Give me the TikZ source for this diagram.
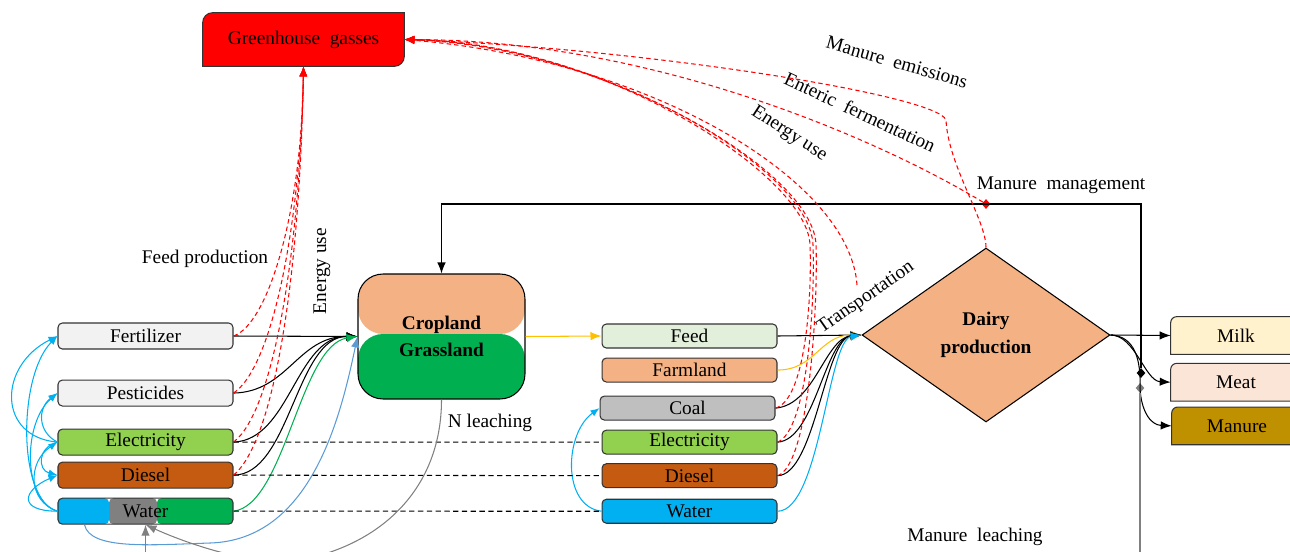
\documentclass[tikz,border=0pt]{standalone}
\usepackage{fontspec}
\setmainfont{Liberation Serif}
\usetikzlibrary{arrows.meta, shapes.geometric, positioning, backgrounds}

\definecolor{boxgray}{HTML}{F2F2F2}
\definecolor{elecgreen}{HTML}{92D050}
\definecolor{dieselbrown}{HTML}{C55A11}
\definecolor{waterblue}{HTML}{00B0F0}
\definecolor{grassgreen}{HTML}{00B050}
\definecolor{cropbeige}{HTML}{F4B183}
\definecolor{feedgreen}{HTML}{E2EFDA}
\definecolor{coalgray}{HTML}{BFBFBF}
\definecolor{milkyellow}{HTML}{FFF2CC}
\definecolor{meatpink}{HTML}{FBE5D6}
\definecolor{manuregold}{HTML}{BF9000}
\definecolor{ghgred}{HTML}{FF0000}
\definecolor{amber}{HTML}{FFC000}
\definecolor{steelblue}{HTML}{5B9BD5}
\definecolor{midgray}{HTML}{808080}

\tikzset{
	inbox/.style={draw=black!80, rounded corners=2.5pt, minimum width=3.5cm, minimum height=0.52cm, inner sep=0pt, line width=0.6pt},
	midbox/.style={inbox, minimum height=0.48cm},
	rbox/.style={minimum width=2.6cm, minimum height=0.74cm, inner sep=0pt},
	lbl/.style={inner sep=1pt},
	jdot/.style={diamond, inner sep=0pt, minimum width=0.18cm, minimum height=0.2cm},
	flow/.style={-{Latex[length=2.2mm,width=1.7mm]}, line width=0.6pt},
	loopflow/.style={-{Latex[length=1.8mm,width=1.4mm]}, waterblue, line width=0.6pt},
	emis/.style={-{Latex[length=2mm,width=1.6mm]}, red, line width=0.6pt, dash pattern=on 2.5pt off 1.8pt},
	link/.style={black, line width=0.6pt, dash pattern=on 3pt off 2pt},
	leach/.style={midgray, line width=0.6pt},
}

\begin{document}
\begin{tikzpicture}[x=0.02cm, y=-0.02cm, font=\fontsize{11}{13}\selectfont]
	\useasboundingbox (0,0) rectangle (1290,551);
	\clip (0,0) rectangle (1290,551);
	
	\node[minimum width=4.02cm, minimum height=1.06cm] (ghg) at (303.5,39.5) {Greenhouse\ \ gasses};
	
	% inputs of the land
	\node[inbox, fill=boxgray] (fert) at (145.5,336) {Fertilizer};
	\node[inbox, fill=boxgray, below=0.6cm of fert] (pest) {Pesticides};
	\node[inbox, fill=elecgreen, below=0.44cm of pest] (elec1) {Electricity};
	\node[inbox, fill=dieselbrown, below=0.12cm of elec1] (diesel1) {Diesel};
	\node[inbox, below=0.18cm of diesel1, path picture={
		\fill[waterblue] (path picture bounding box.south west) rectangle ([xshift=1.02cm]path picture bounding box.north west);
		\fill[midgray] ([xshift=1.02cm]path picture bounding box.south west) rectangle ([xshift=1.98cm]path picture bounding box.north west);
		\fill[grassgreen] ([xshift=1.98cm]path picture bounding box.south west) rectangle (path picture bounding box.north east);
	}] (water1) {Water};
	
	\node[draw=black, line width=0.6pt, rounded corners=0.5cm, minimum width=3.34cm, minimum height=2.5cm, align=center, font=\fontsize{11}{13}\selectfont\bfseries, path picture={
		\fill[cropbeige] (path picture bounding box.north west) rectangle ([yshift=-1.2cm]path picture bounding box.north east);
		\fill[grassgreen] ([yshift=-1.2cm]path picture bounding box.north west) rectangle (path picture bounding box.south east);
	}] (crop) at (441.5,336.5) {Cropland\\[2.5pt]Grassland};
	
	% inputs of the farm
	\node[midbox, fill=feedgreen] (feed) at (689.5,336) {Feed};
	\node[midbox, fill=cropbeige, below=0.18cm of feed] (farm) {Farmland};
	\node[midbox, fill=coalgray, below=0.26cm of farm, xshift=-0.04cm] (coal) {Coal};
	\node[midbox, fill=elecgreen, below=0.18cm of coal, xshift=0.04cm] (elec2) {Electricity};
	\node[midbox, fill=dieselbrown, below=0.17cm of elec2] (diesel2) {Diesel};
	\node[midbox, fill=waterblue, below=0.21cm of diesel2] (water2) {Water};
	
	\node[diamond, draw=black, fill=cropbeige, line width=0.6pt, inner sep=0pt, minimum width=4.96cm, minimum height=3.48cm, align=center, font=\fontsize{11}{13}\selectfont\bfseries] (dairy) at (986,335) {Dairy\\[3pt]production};
	
	\node[rbox] (milk) at (1236,335.5) {Milk};
	\node[rbox, below=0.18cm of milk] (meat) {Meat};
	\node[rbox, below=0.12cm of meat, xshift=0.02cm] (manure) {Manure};
	
	\begin{scope}[on background layer]
		\draw[fill=ghgred, draw=black!80, line width=0.6pt] (ghg.south west) -- ([yshift=-0.2cm]ghg.north west) arc[start angle=180, end angle=90, radius=0.2cm] -- (ghg.north east) -- ([yshift=0.2cm]ghg.south east) arc[start angle=0, end angle=-90, radius=0.2cm] -- cycle;
		\foreach \n/\c in {milk/milkyellow, meat/meatpink, manure/manuregold}
			\draw[fill=\c, draw=black!80, line width=0.6pt] (\n.south west) -- ([yshift=-0.12cm]\n.north west) arc[start angle=180, end angle=90, radius=0.12cm] -- (\n.north east) -- (\n.south east) -- cycle;
	\end{scope}
	
	\node[jdot, fill=red] (mman) at (986,204) {};
	\node[jdot, fill=black] (mjoin) at (1141,373) {};
	\node[jdot, fill=midgray] (gjoin) at (1140,388) {};
	\coordinate (transp0) at (857,285);
	\coordinate (wleach) at (145.5,580);
	\coordinate (leachout) at (1140,580);
	
	% labels
	\node[lbl] (feedlbl) at (205,259) {Feed production};
	\node[lbl, rotate=90] (energy1) at (322,271) {Energy use};
	\node[lbl] (nleach) at (490,423) {N leaching};
	\node[lbl, rotate=-16] (manemis) at (897,62) {Manure\ \ emissions};
	\node[lbl, rotate=-25] (enteric) at (860,112) {Enteric\ \ fermentation};
	\node[lbl, rotate=-33] (energy2) at (789,134) {Energy use};
	\node[lbl, rotate=35] (transp) at (866,298) {Transportation};
	\node[lbl] (manmgmt) at (1061,185) {Manure\ \ management};
	\node[lbl] (manleach) at (975,537) {Manure\ \ leaching};
	
	% water and energy loops
	\draw[loopflow] (water1.west) .. controls +(-40,-10) and +(-40,40) .. (fert.west);
	\draw[loopflow] (elec1.west) .. controls +(-60,-5) and +(-60,30) .. (fert.west);
	\draw[loopflow] (water1.west) .. controls +(-35,-10) and +(-35,30) .. (pest.west);
	\draw[loopflow] (elec1.west) .. controls +(-20,-10) and +(-20,15) .. (pest.west);
	\draw[loopflow] (water1.west) .. controls +(-30,-10) and +(-30,20) .. (elec1.west);
	\draw[loopflow] (elec1.west) .. controls +(-20,5) and +(-20,-5) .. (diesel1.west);
	\draw[loopflow] (water1.west) .. controls +(-40,0) and +(-35,15) .. (diesel1.west);
	\draw[loopflow] (water2.west) .. controls +(-40,-5) and +(-35,25) .. (coal.west);
	
	% into the land
	\draw[flow] (fert.east) -- (crop.west);
	\draw[flow] (pest.east) .. controls (288,392) and (298,336) .. (crop.west);
	\draw[flow] (elec1.east) .. controls (290,440) and (296,336) .. (crop.west);
	\draw[flow] (diesel1.east) .. controls (290,475) and (296,336) .. (crop.west);
	\draw[flow, grassgreen] (water1.east) .. controls (285,505) and (300,345) .. (crop.west);
	\draw[flow, steelblue] ([xshift=0.54cm]water1.south west) .. controls (90,550) and (150,545) .. (210,543) .. controls (310,540) and (340,420) .. (crop.west);
	\draw[flow, amber] (crop.east) -- (feed.west);
	
	% into the farm
	\draw[flow] (feed.east) -- (dairy.west);
	\draw[flow, amber] (farm.east) .. controls (815,370) and (820,335) .. (dairy.west);
	\draw[flow] (coal.east) .. controls (815,405) and (825,338) .. (dairy.west);
	\draw[flow] (elec2.east) .. controls (815,440) and (825,338) .. (dairy.west);
	\draw[flow] (diesel2.east) .. controls (815,475) and (825,338) .. (dairy.west);
	\draw[flow, waterblue] (water2.east) .. controls (820,511) and (828,340) .. (dairy.west);
	\foreach \a/\b in {elec1/elec2, diesel1/diesel2, water1/water2}
		\draw[link] (\a.east) -- (\b.west);
	
	% products and manure loop
	\draw[flow] (dairy.east) -- (milk.west);
	\draw[flow] (dairy.east) .. controls (1135,335) and (1145,381) .. (meat.west);
	\draw[flow] (dairy.east) .. controls (1135,336) and (1141,360) .. (gjoin.center) .. controls (1141,410) and (1150,425) .. (manure.west);
	\draw[flow] (mjoin) -- (mjoin |- mman) -| (crop.north);
	\draw[leach] (gjoin) -- (leachout);
	\draw[leach, -{Latex[length=2.2mm,width=1.7mm]}] (wleach) -- (water1.south);
	\draw[leach, -{Latex[length=2.2mm,width=1.7mm]}] (crop.south) .. controls +(0,90) and (380,545) .. (300,560) .. controls (260,568) and (190,545) .. (water1.south);
	
	% emissions
	\draw[emis] (fert.east) .. controls +(35,-12) and (302,210) .. (ghg.south);
	\draw[emis] (pest.east) .. controls +(38,-25) and (300,230) .. (ghg.south);
	\draw[emis] (elec1.east) .. controls +(40,-30) and (300,250) .. (ghg.south);
	\draw[emis] (diesel1.east) .. controls +(42,-35) and (300,270) .. (ghg.south);
	\draw[emis] (coal.east) .. controls (805,400) and (812,300) .. (810,245) .. controls (808,175) and (600,42) .. (ghg.east);
	\draw[emis] (elec2.east) .. controls (808,430) and (815,300) .. (813,245) .. controls (811,170) and (600,44) .. (ghg.east);
	\draw[emis] (diesel2.east) .. controls (810,465) and (818,300) .. (816,245) .. controls (814,170) and (600,46) .. (ghg.east);
	\draw[emis] (transp0) .. controls (850,180) and (650,60) .. (ghg.east);
	\draw[emis] (mman) .. controls (880,140) and (654,40) .. (ghg.east);
	\draw[emis] (dairy.north) .. controls (986,220) and (948,165) .. (946,120) .. controls (938,95) and (640,48) .. (ghg.east);
\end{tikzpicture}
\end{document}
